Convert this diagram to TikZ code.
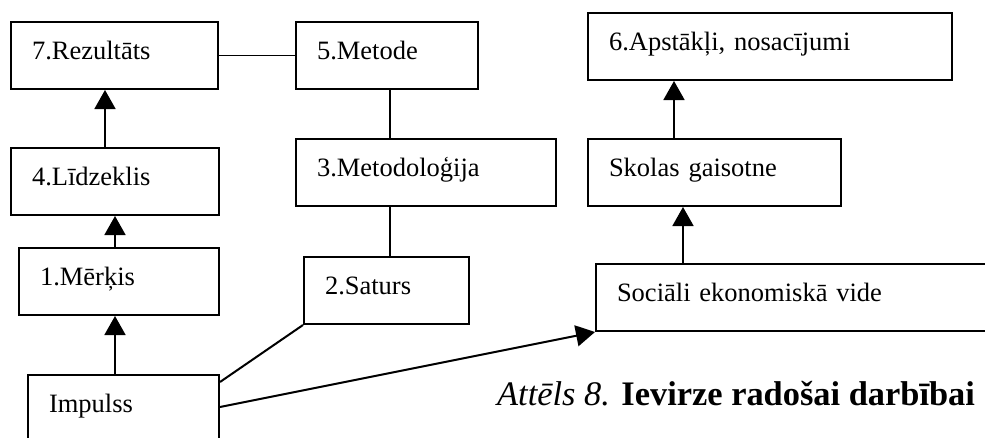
\documentclass[tikz,border=0pt]{standalone}
\usepackage{fontspec}
\setmainfont{Liberation Serif}
\usetikzlibrary{arrows.meta,calc}
\begin{document}
\begin{tikzpicture}[x=1pt,y=-1pt,
  box/.style={draw,line width=2pt,rectangle,anchor=north west,
    inner xsep=21pt,inner ysep=0pt,text width=#1-42pt,align=left,
    text height=37pt,text depth=30pt,
    font=\fontsize{26.5}{30}\selectfont},
  link/.style={line width=1.8pt},
  arr/.style={line width=1.8pt,-{Triangle[width=21pt,length=19pt]}},
  captxt/.style={anchor=base west,inner sep=0pt,font=\fontsize{34.4}{40}\selectfont}]
\useasboundingbox (0,0) rectangle (985,437);
\clip (0,0) rectangle (985,437);
\fill[white] (0,0) rectangle (985,437);
\node[box=207pt] (r7) at (10,21) {7.Rezultāts};
\node[box=182pt] (m5) at (295,21) {5.Metode};
\node[box=208pt] (l4) at (10,147) {4.Līdzeklis};
\node[box=260pt] (m3) at (295,138) {3.Metodoloģija};
\node[box=200pt] (g1) at (18,247) {1.Mērķis};
\node[box=165pt] (s2) at (303,256) {2.Saturs};
\node[box=191pt,text depth=80pt] (imp) at (27,374) {Impulss};
\node[box=364pt] (a6) at (587,12) {6.Apstākļi, nosacījumi};
\node[box=253pt] (sk) at (587,138) {Skolas gaisotne};
\node[box=420pt] (sv) at (595,263) {Sociāli ekonomiskā vide};
\node[captxt] (capt) at (497,405) {\textit{Attēls 8.} \textbf{Ievirze radošai darbībai}};
\coordinate (xa) at (105,0);
\coordinate (xb) at (115,0);
\coordinate (xc) at (390,0);
\coordinate (xd) at (674,0);
\coordinate (xe) at (683,0);
\draw[link] (r7.east) -- (m5.west);
\draw[arr] (l4.north -| xa) -- (r7.south -| xa);
\draw[arr] (g1.north -| xb) -- (l4.south -| xb);
\draw[arr] (imp.north -| xb) -- (g1.south -| xb);
\draw[link] (m5.south -| xc) -- (m3.north -| xc);
\draw[link] (m3.south -| xc) -- (s2.north -| xc);
\draw[arr] (sk.north -| xd) -- (a6.south -| xd);
\draw[arr] (sv.north -| xe) -- (sk.south -| xe);
\draw[link,line width=2pt] ($(imp.north east)+(0,8)$) -- (s2.south west);
\draw[arr,line width=2pt] ($(imp.north east)+(0,33)$) -- (sv.south west);
\end{tikzpicture}
\end{document}
